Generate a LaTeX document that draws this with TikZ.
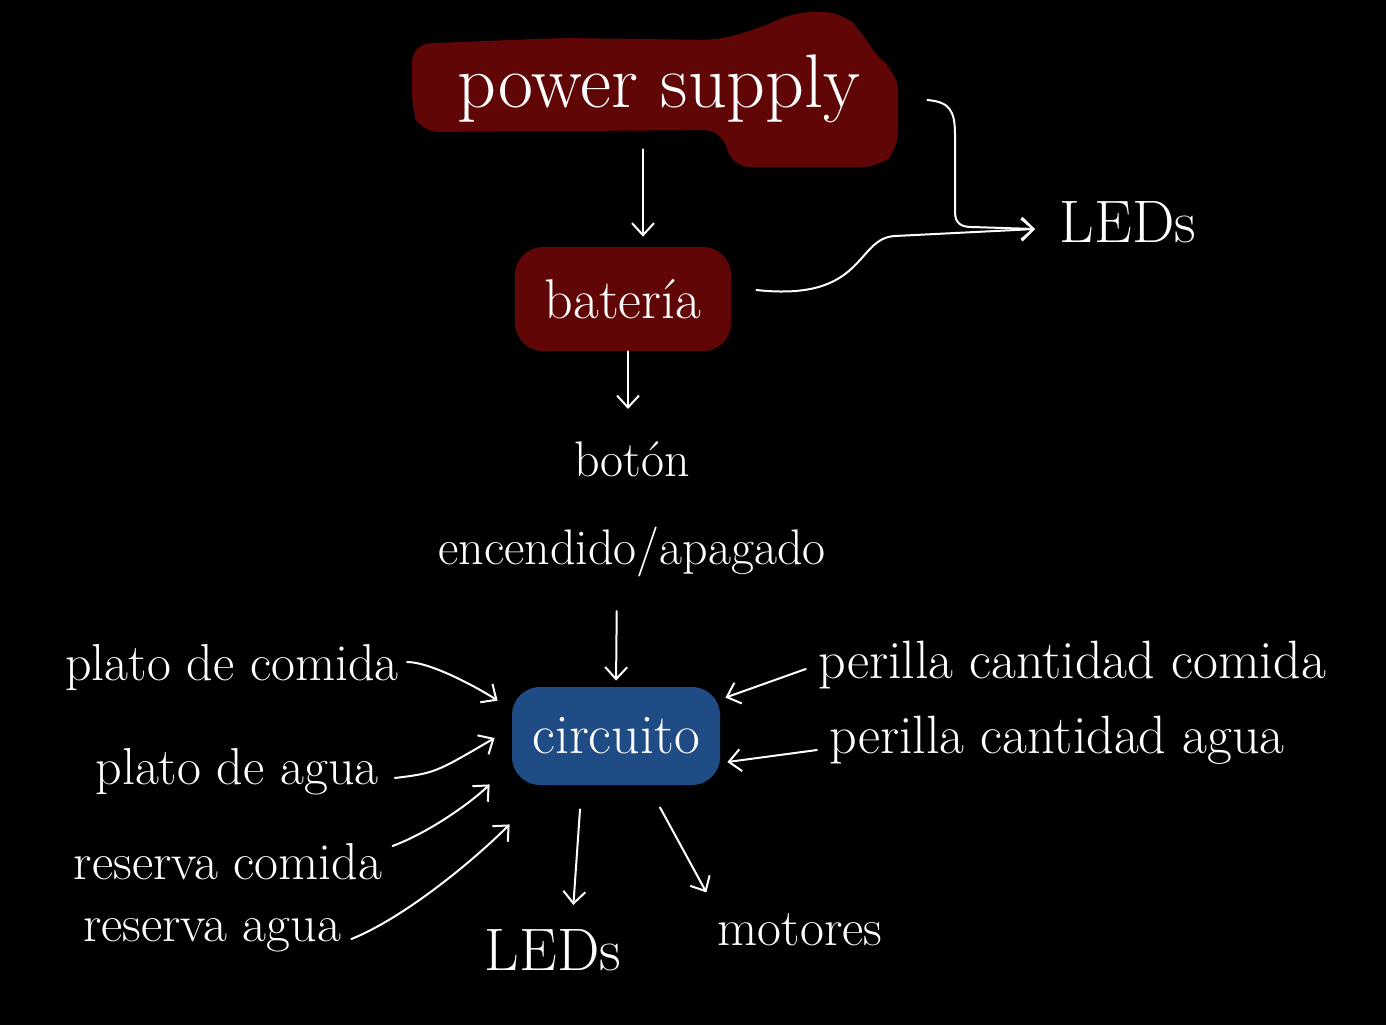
\documentclass[tikz,border=0pt]{standalone}
\usetikzlibrary{arrows.meta}
\definecolor{psred}{HTML}{600606}
\definecolor{cblue}{HTML}{1F4C85}
\tikzset{
  lbl/.style={text=white, inner sep=2pt, font=\fontsize{26}{30}\selectfont},
  blob/.style={rounded corners=14pt, inner sep=2pt, text=white},
  arr/.style={draw=white, line width=1pt, line cap=round, line join=round,
    -{Straight Barb[length=6pt,width=11pt,line width=1pt]}},
}
\begin{document}
\begin{tikzpicture}[x=0.5pt,y=-0.5pt]
\fill[black] (0,0) rectangle (1386,1025);
\useasboundingbox (0,0) rectangle (1386,1025);
% irregular blob behind "power supply"
\fill[psred, rounded corners=9pt] (412,44) -- (560,38) -- (720,40) -- (765,26) -- (795,12)
  -- (842,12) -- (862,32) -- (880,62) -- (898,72) -- (898,150) -- (880,167) -- (732,167)
  -- (722,130) -- (420,132) -- (412,110) -- cycle;
\node[text=white, inner sep=2pt, minimum width=250pt, minimum height=44pt,
  font=\fontsize{38}{40}\selectfont] (ps) at (659,89) {power supply};
\node[blob, fill=psred, minimum width=108pt, minimum height=52pt,
  font=\fontsize{28}{30}\selectfont] (bat) at (623,299) {batería};
\node[lbl, align=center, font=\fontsize{25}{44}\selectfont] (btn) at (632,509) {botón\\encendido/apagado};
\node[blob, fill=cblue, minimum width=104pt, minimum height=49pt,
  font=\fontsize{28}{30}\selectfont] (circ) at (616,736) {circuito};
\node[lbl, font=\fontsize{30}{32}\selectfont] (led1) at (1128,222) {LEDs};
\node[lbl, font=\fontsize{30}{32}\selectfont] (led2) at (553,950) {LEDs};
\node[lbl] (mot) at (800,930) {motores};
\node[lbl] (pc) at (232,668) {plato de comida};
\node[lbl] (pa) at (237,772) {plato de agua};
\node[lbl] (rc) at (228,862) {reserva comida};
\node[lbl] (ra) at (212,935) {reserva agua};
\node[lbl, font=\fontsize{27}{30}\selectfont] (pcom) at (1072,665) {perilla cantidad comida};
\node[lbl, font=\fontsize{27}{30}\selectfont] (pagu) at (1057,740) {perilla cantidad agua};
\coordinate (ledtip) at (1035,229);
% connectors
\draw[arr, shorten <=8pt, shorten >=5pt] ([xshift=-8pt]ps.south) -- ([xshift=10pt]bat.north);
\draw[arr] ([xshift=9pt,yshift=-5.5pt]ps.east) .. controls +(22,2) and +(0,-25) .. (955,135)
  -- (955,212) .. controls +(0,12) and +(-10,0) .. (972,227) -- (ledtip);
\draw[arr] ([xshift=12.5pt,yshift=4.5pt]bat.east) .. controls +(110,12) and +(-40,2) .. (895,236)
  -- (ledtip);
\draw[arr, shorten >=14pt] ([xshift=2.5pt]bat.south) -- ([xshift=-2pt]btn.north);
\draw[arr, shorten <=15pt, shorten >=3pt] ([xshift=-7.5pt]btn.south) -- (circ.north);
\draw[arr] ([xshift=2pt,yshift=3pt]pc.east) .. controls +(25,0) and +(-15,-10) .. ([xshift=-7pt,yshift=-7pt]circ.north west);
\draw[arr] ([xshift=6pt,yshift=-3pt]pa.east) .. controls +(40,-5) .. ([xshift=-8.5pt,yshift=-1pt]circ.west);
\draw[arr] ([xshift=3pt,yshift=8pt]rc.east) .. controls +(40,-15) and +(-15,15) .. ([xshift=-11pt,yshift=0.5pt]circ.south west);
\draw[arr] ([xshift=3pt,yshift=-2pt]ra.east) .. controls +(50,-20) and +(-40,40) .. ([xshift=-1pt,yshift=-19.5pt]circ.south west);
\draw[arr] ([xshift=-4pt,yshift=-2pt]pcom.west) -- ([xshift=2.5pt,yshift=-5.5pt]circ.north east);
\draw[arr] ([xshift=-4pt,yshift=-5pt]pagu.west) -- ([xshift=3.5pt,yshift=-13pt]circ.east);
\draw[arr, shorten >=10pt] ([xshift=-18pt,yshift=-12pt]circ.south) -- ([xshift=9.5pt]led2.north);
\draw[arr] ([xshift=22pt,yshift=-11pt]circ.south) -- ([xshift=-3.5pt,yshift=8.5pt]mot.north west);
\end{tikzpicture}
\end{document}
